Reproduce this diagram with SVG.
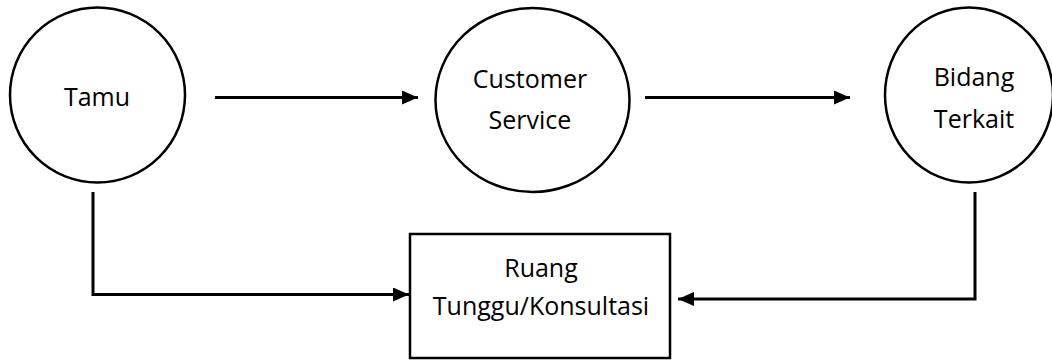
<svg xmlns="http://www.w3.org/2000/svg" width="1052" height="362" viewBox="0 0 1052 362">
<style>
.node{fill:#fff;stroke:#000;stroke-width:2.5}
.lbl{font-family:"Open Sans","Liberation Sans",sans-serif;font-size:25px;fill:#000;text-anchor:middle}
.conn{fill:none;stroke:#000;stroke-width:3}
</style>
<defs>
<marker id="arr" markerUnits="userSpaceOnUse" markerWidth="16" markerHeight="14" refX="16" refY="7" orient="auto">
<path d="M0,0 L16,7 L0,14 Z" fill="#000"/>
</marker>
</defs>
<rect width="1052" height="362" fill="#fff"/>
<g id="tamu">
<ellipse class="node" cx="97.5" cy="95" rx="87.5" ry="87.5"/>
<text class="lbl" x="97" y="106">Tamu</text>
</g>
<g id="customer-service">
<ellipse class="node" cx="532.5" cy="100" rx="97" ry="92"/>
<text class="lbl" x="530" y="88">Customer</text>
<text class="lbl" x="530" y="129">Service</text>
</g>
<g id="bidang-terkait">
<ellipse class="node" cx="969" cy="95" rx="84" ry="87.5"/>
<text class="lbl" x="974" y="86">Bidang</text>
<text class="lbl" x="974" y="128">Terkait</text>
</g>
<g id="ruang-tunggu">
<rect class="node" x="410" y="234" width="260" height="124"/>
<text class="lbl" x="541" y="277">Ruang</text>
<text class="lbl" x="541" y="315">Tunggu/Konsultasi</text>
</g>
<g id="connectors">
<path class="conn" d="M215,97.5 H418" marker-end="url(#arr)"/>
<path class="conn" d="M645,97.5 H850" marker-end="url(#arr)"/>
<path class="conn" d="M93,192 V294.5 H409" marker-end="url(#arr)"/>
<path class="conn" d="M975,192 V299 H678" marker-end="url(#arr)"/>
</g>
</svg>
